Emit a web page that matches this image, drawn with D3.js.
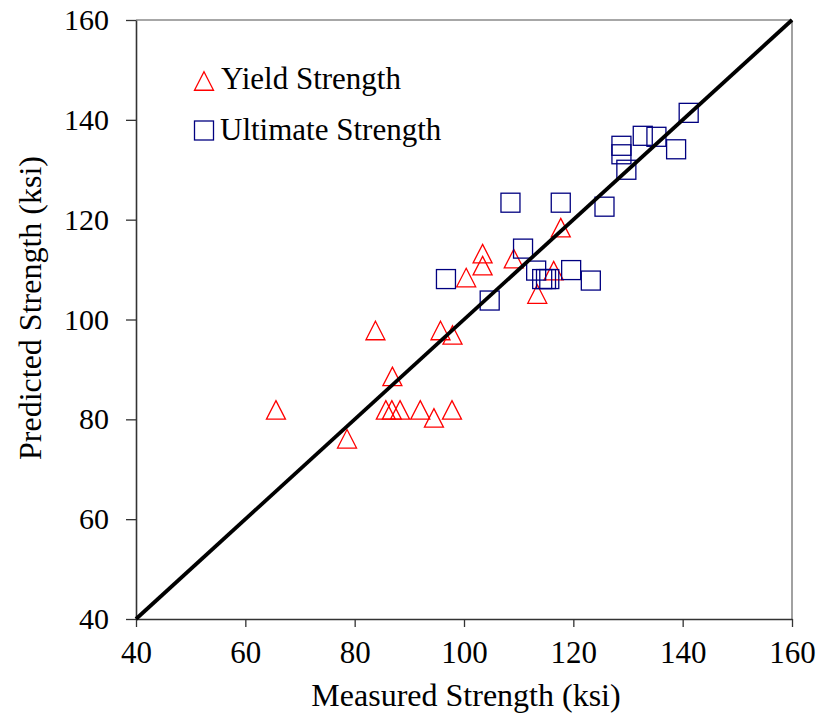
<!DOCTYPE html>
<html>
<head>
<meta charset="utf-8">
<script src="https://cdn.jsdelivr.net/npm/d3@7"></script>
<style>
  html, body { margin: 0; padding: 0; background: #fff; }
  svg { display: block; }
  svg text { font-family: 'Liberation Serif', 'Times New Roman', serif !important; fill: #000; }
</style>
</head>
<body>
<svg id="chart" width="819" height="717"></svg>
<script>
// ---- data ----
const xTicks = [40, 60, 80, 100, 120, 140, 160];
const yTicks = [40, 60, 80, 100, 120, 140, 160];
const seriesNames = ["Yield Strength", "Ultimate Strength"];

const yieldMeasured  = [65.6, 78.6, 83.8, 85.7, 86.8, 86.9, 88.3, 92.0, 94.5, 95.7, 97.8, 97.9, 100.4, 103.4, 103.4, 109.1, 113.4, 116.4, 117.7];
const yieldPredicted = [81.9, 76.1, 97.8, 81.9, 81.9, 88.6, 81.9, 81.9, 80.3, 97.8, 81.9, 96.9, 108.4, 113.2, 110.8, 112.2, 105.1, 109.8, 118.4];

const ultMeasured  = [96.7, 104.7, 108.5, 110.8, 113.2, 114.3, 115.0, 115.6, 117.7, 119.6, 123.2, 125.7, 128.8, 128.8, 129.7, 132.7, 135.2, 138.8, 141.1];
const ultPredicted = [108.1, 103.8, 123.4, 114.2, 109.8, 108.1, 108.1, 108.1, 123.4, 109.9, 107.8, 122.6, 134.8, 133.1, 130.0, 136.8, 136.6, 134.1, 141.4];

const lineX = [40, 160];
const lineY = [40, 160];

// ---- layout ----
const svg = d3.select("#chart");
const L = 136, R = 792, T = 20, B = 619;
const x = d3.scaleLinear().domain([40, 160]).range([L, R]);
const y = d3.scaleLinear().domain([40, 160]).range([B, T]);

const RED = "#FF0000", NAVY = "#000080";
const SERIF = "'Liberation Serif', 'Times New Roman', serif";

// plot border (top & right gray)
svg.append("line").attr("x1", L).attr("x2", R).attr("y1", T).attr("y2", T)
  .attr("stroke", "#8a8a8a").attr("stroke-width", 1.6);
svg.append("line").attr("x1", R).attr("x2", R).attr("y1", T).attr("y2", B)
  .attr("stroke", "#8a8a8a").attr("stroke-width", 1.6);

// axes
const xAxis = d3.axisBottom(x).tickValues(xTicks).tickSize(8).tickPadding(14).tickSizeOuter(0);
const yAxis = d3.axisLeft(y).tickValues(yTicks).tickSize(10).tickPadding(17).tickSizeOuter(0);

const gx = svg.append("g").attr("transform", `translate(0,${B})`).call(xAxis)
  .attr("font-family", SERIF).attr("font-size", 31);
gx.select(".domain").attr("stroke", "#333").attr("stroke-width", 1.6);
gx.selectAll(".tick line").attr("stroke", "#333").attr("stroke-width", 1.3);
gx.selectAll(".tick text").attr("fill", "#000");

const gy = svg.append("g").attr("transform", `translate(${L},0)`).call(yAxis)
  .attr("font-family", SERIF).attr("font-size", 30);
gy.select(".domain").attr("stroke", "#333").attr("stroke-width", 1.6);
gy.selectAll(".tick line").attr("stroke", "#333").attr("stroke-width", 1.3);
gy.selectAll(".tick text").attr("fill", "#000");

// markers
const tw = 19, th = 18.5, sq = 19;
const triPath = `M0,${-th/2} L${tw/2},${th/2} L${-tw/2},${th/2} Z`;

const yieldData = yieldMeasured.map((m, i) => [m, yieldPredicted[i]]);
const ultData = ultMeasured.map((m, i) => [m, ultPredicted[i]]);

svg.append("g").selectAll("path").data(yieldData).enter().append("path")
  .attr("d", triPath)
  .attr("transform", d => `translate(${x(d[0])},${y(d[1])})`)
  .attr("fill", "none").attr("stroke", RED).attr("stroke-width", 1.3);

svg.append("g").selectAll("rect").data(ultData).enter().append("rect")
  .attr("x", d => x(d[0]) - sq/2).attr("y", d => y(d[1]) - sq/2)
  .attr("width", sq).attr("height", sq)
  .attr("fill", "none").attr("stroke", NAVY).attr("stroke-width", 1.3);

// 1:1 line
svg.append("line")
  .attr("x1", x(lineX[0])).attr("y1", y(lineY[0]))
  .attr("x2", x(lineX[1])).attr("y2", y(lineY[1]))
  .attr("stroke", "#000").attr("stroke-width", 3.8);

// legend
const lg = svg.append("g").attr("font-family", SERIF);
lg.append("path").attr("d", triPath).attr("transform", "translate(204,81)")
  .attr("fill", "none").attr("stroke", RED).attr("stroke-width", 1.3);
lg.append("text").attr("x", 221).attr("y", 89).attr("font-size", 31).text(seriesNames[0]);
lg.append("rect").attr("x", 204 - sq/2).attr("y", 130.5 - sq/2).attr("width", sq).attr("height", sq)
  .attr("fill", "none").attr("stroke", NAVY).attr("stroke-width", 1.3);
lg.append("text").attr("x", 220).attr("y", 140).attr("font-size", 31).text(seriesNames[1]);

// axis titles
svg.append("text").attr("x", 466).attr("y", 706).attr("text-anchor", "middle")
  .attr("font-family", SERIF).attr("font-size", 32).text("Measured Strength (ksi)");
svg.append("text").attr("transform", "translate(41,308) rotate(-90)").attr("text-anchor", "middle")
  .attr("font-family", SERIF).attr("font-size", 32).text("Predicted Strength (ksi)");
</script>
</body>
</html>
